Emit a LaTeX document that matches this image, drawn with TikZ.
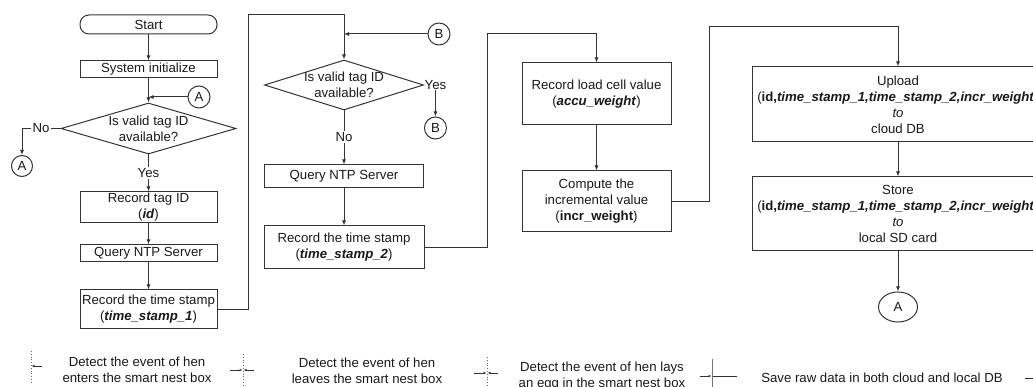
\documentclass[tikz,border=0pt]{standalone}
\usepackage{fontspec}
\setmainfont{Liberation Sans}
\usetikzlibrary{shapes.geometric,arrows.meta}
\newcommand\myfs{\fontsize{13.2pt}{16pt}\selectfont}
\newcommand\bi[1]{\textbf{\textit{#1}}}
\begin{document}
\begin{tikzpicture}[x=1pt,y=-1pt,
  every node/.style={font=\myfs, text=black!90},
  ln/.style={draw=black!80, line width=1pt},
  arr/.style={ln, -{Latex[length=5pt,width=4pt]}},
  box/.style={draw=black!80, line width=1pt, rectangle, align=center, inner sep=0pt},
  term/.style={box, rounded corners=9pt},
  dia/.style={draw=black!80, line width=1pt, diamond, inner sep=0pt},
  conn/.style={draw=black!80, line width=1pt, circle, inner sep=0pt, minimum size=22pt},
  lbl/.style={fill=white, inner sep=1pt},
  dotmark/.style={draw=black!60, line width=0.8pt, dotted},
  solidmark/.style={draw=black!55, line width=1pt},
  tickarr/.style={draw=black!80, line width=0.8pt, -{Latex[length=3pt,width=2.5pt]}},
  tickline/.style={draw=black!80, line width=0.8pt},
  captxt/.style={align=center, inner sep=0pt}
]
\useasboundingbox (0,0) rectangle (1033,387);
\clip (0,0) rectangle (1033,387);

% ---------- column 1 ----------
\node[term, minimum width=137pt, minimum height=19pt] (start) at (148.5,24.5) {Start};
\node[box, minimum width=137pt, minimum height=17pt] (sys) at (148.5,69.5) {System initialize};
\node[dia, minimum width=175pt, minimum height=51pt] (d1) at (148.5,128.5) {};
\node[align=center, inner sep=0pt] (d1t) at (d1) {Is valid tag ID\\available?};
\node[conn] (A1) at (199,97) {A};
\node[lbl] (no1) at (41,128.5) {No};
\node[conn, minimum size=21pt] (A2) at (22,166) {A};
\node[lbl] (yes1) at (148.5,173) {Yes};
\node[box, minimum width=137pt, minimum height=31pt] (rec1) at (148.5,207.5) {Record tag ID\\(\bi{id})};
\node[box, minimum width=137pt, minimum height=17pt] (q1) at (148.5,253.5) {Query NTP Server};
\node[box, minimum width=137pt, minimum height=38pt] (ts1) at (148.5,309) {Record the time stamp\\(\bi{time\_stamp\_1})};

\draw[arr] (start) -- (sys);
\draw[arr] (sys) -- (d1);
\draw[arr] (A1.west) -- (A1.west -| sys.south);
\draw[ln] (d1.west) -- (no1.east);
\draw[arr] (no1.west) -| (A2.north);
\draw[ln] (d1.south) -- (yes1.north);
\draw[arr] (yes1.south) -- (rec1.north);
\draw[arr] (rec1) -- (q1);
\draw[arr] (q1) -- (ts1);

% ---------- column 2 ----------
\node[dia, minimum width=159pt, minimum height=50pt] (d2) at (344,85) {};
\node[align=center, inner sep=0pt] (d2t) at (d2) {Is valid tag ID\\available?};
\node[conn] (B1) at (439,34) {B};
\node[inner sep=0.5pt, anchor=west] (yes2) at (d2.east) {Yes};
\node[conn] (B2) at (yes2.south |- 0,128) {B};
\node[lbl] (no2) at (344,137) {No};
\node[box, minimum width=159pt, minimum height=23pt] (q2) at (344,176.5) {Query NTP Server};
\node[box, minimum width=160pt, minimum height=43pt] (ts2) at (344,247.5) {Record the time stamp\\(\bi{time\_stamp\_2})};

\coordinate (c1) at (248,15);
\coordinate (c2) at (344,15);
\draw[arr] (ts1.east) -| (c1) -- (c2) -- (d2.north);
\draw[arr] (B1.west) -- (B1.west -| d2.north);
\draw[ln] (d2.east) -- (yes2.west);
\draw[arr] (yes2.south) -- (B2.north);
\draw[ln] (d2.south) -- (no2.north);
\draw[arr] (no2.south) -- (q2.north);
\draw[arr] (q2) -- (ts2);

% ---------- column 3 ----------
\node[box, minimum width=149pt, minimum height=62pt] (load) at (596.5,94) {Record load cell value\\(\bi{accu\_weight})};
\node[box, minimum width=149pt, minimum height=61pt] (comp) at (596.5,201.5) {Compute the\\incremental value\\(\textbf{incr\_weight})};
\coordinate (c3) at (487,34);
\coordinate (c4) at (596.5,34);
\draw[arr] (ts2.east) -| (c3) -- (c4) -- (load.north);
\draw[arr] (load) -- (comp);

% ---------- column 4 ----------
\node[box, minimum width=292pt, minimum height=75pt] (up) at (898,104.5) {Upload\\(\textbf{id,}\bi{time\_stamp\_1,time\_stamp\_2,incr\_weight})\\\textit{to}\\cloud DB};
\node[box, minimum width=292pt, minimum height=74pt] (store) at (898,214) {Store\\(\textbf{id,}\bi{time\_stamp\_1,time\_stamp\_2,incr\_weight})\\\textit{to}\\local SD card};
\node[draw=black!80, line width=1pt, ellipse, inner sep=0pt, minimum width=39pt, minimum height=30pt] (A3) at (898,307) {A};
\coordinate (c5) at (709,27);
\coordinate (c6) at (898,27);
\draw[arr] (comp.east) -| (c5) -- (c6) -- (up.north);
\draw[arr] (up) -- (store);
\draw[arr] (store) -- (A3);

% ---------- bottom band ----------
\draw[dotmark] (31,351) -- (31,383);
\draw[tickarr] (42,366) -- (31.5,366);
\draw[dotmark] (243,354) -- (243,387);
\draw[tickarr] (230,370) -- (242.5,370);
\draw[tickarr] (254,370) -- (243.5,370);
\draw[dotmark] (487,357) -- (487,387);
\draw[tickarr] (474,373) -- (486.5,373);
\draw[tickarr] (498,373) -- (487.5,373);
\draw[solidmark] (712,359) -- (712,387);
\draw[tickarr] (700,376) -- (711.5,376);
\draw[tickline] (712.5,376) -- (737,376);
\draw[tickline] (1025,378) -- (1033,378);

\node[captxt] (t1) at (137,370) {Detect the event of hen\\enters the smart nest box};
\node[captxt] (t2) at (367,370.5) {Detect the event of hen\\leaves the smart nest box};
\node[captxt] (t3) at (602,376.5) {Detect the event of hen lays\\an egg in the smart nest box};
\node[captxt] (t4) at (882,378) {Save raw data in both cloud and local DB};
\end{tikzpicture}
\end{document}
